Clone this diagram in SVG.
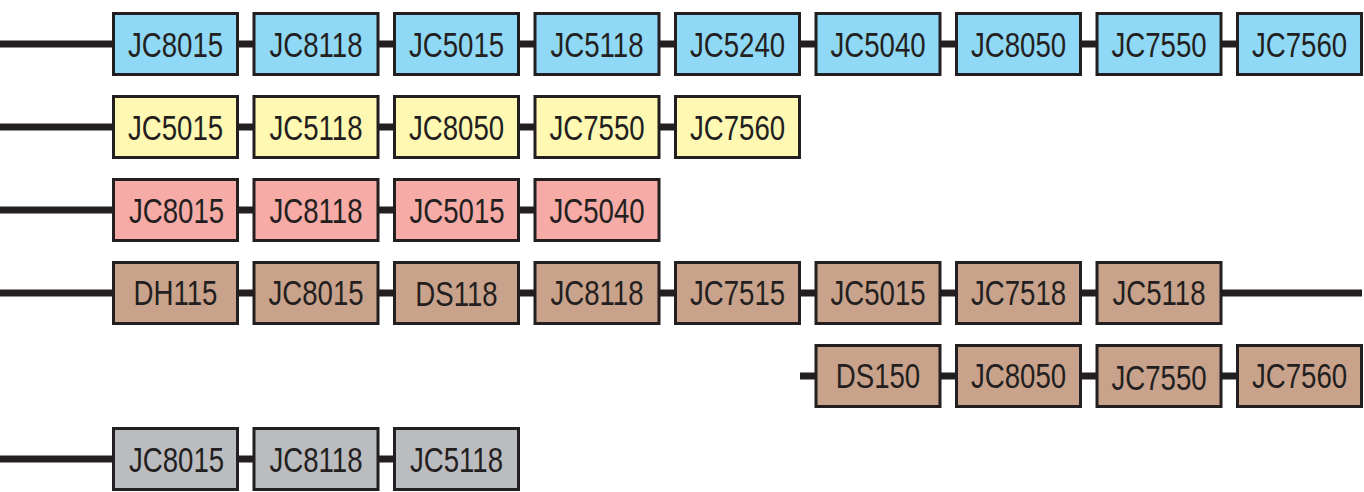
<svg xmlns="http://www.w3.org/2000/svg" width="1364" height="492" viewBox="0 0 1364 492">
<style>
.bx{stroke:#231f20;stroke-width:3}
.b{fill:#8fd8f6}.y{fill:#fff8b3}.p{fill:#f7aba6}.r{fill:#c9a28b}.g{fill:#bbbcc0}
.t{font-family:"Liberation Sans",Arial,sans-serif;font-size:35px;fill:#231f20;text-anchor:middle}
.ln{stroke:#231f20;stroke-width:7;fill:none}
</style>
<rect width="1364" height="492" fill="#ffffff"/>
<g id="connectors">
<line class="ln" x1="0" y1="44" x2="1240" y2="44"/>
<line class="ln" x1="0" y1="127" x2="680" y2="127"/>
<line class="ln" x1="0" y1="210" x2="540" y2="210"/>
<line class="ln" x1="0" y1="293" x2="1362" y2="293"/>
<line class="ln" x1="800" y1="376" x2="1240" y2="376"/>
<line class="ln" x1="0" y1="459" x2="400" y2="459"/>
</g>
<!-- Row 1 -->
<g id="r1n1"><rect class="bx b" x="113.5" y="13.5" width="124" height="61"/><text class="t" transform="translate(175.5,57) scale(0.79,1)">JC8015</text></g>
<g id="r1n2"><rect class="bx b" x="254" y="13.5" width="124" height="61"/><text class="t" transform="translate(316,57) scale(0.79,1)">JC8118</text></g>
<g id="r1n3"><rect class="bx b" x="394.5" y="13.5" width="124" height="61"/><text class="t" transform="translate(456.5,57) scale(0.79,1)">JC5015</text></g>
<g id="r1n4"><rect class="bx b" x="535" y="13.5" width="124" height="61"/><text class="t" transform="translate(597,57) scale(0.79,1)">JC5118</text></g>
<g id="r1n5"><rect class="bx b" x="675.5" y="13.5" width="124" height="61"/><text class="t" transform="translate(737.5,57) scale(0.79,1)">JC5240</text></g>
<g id="r1n6"><rect class="bx b" x="816" y="13.5" width="124" height="61"/><text class="t" transform="translate(878,57) scale(0.79,1)">JC5040</text></g>
<g id="r1n7"><rect class="bx b" x="956.5" y="13.5" width="124" height="61"/><text class="t" transform="translate(1018.5,57) scale(0.79,1)">JC8050</text></g>
<g id="r1n8"><rect class="bx b" x="1097" y="13.5" width="124" height="61"/><text class="t" transform="translate(1159,57) scale(0.79,1)">JC7550</text></g>
<g id="r1n9"><rect class="bx b" x="1237.5" y="13.5" width="124" height="61"/><text class="t" transform="translate(1299.5,57) scale(0.79,1)">JC7560</text></g>
<!-- Row 2 -->
<g id="r2n1"><rect class="bx y" x="113.5" y="96.5" width="124" height="61"/><text class="t" transform="translate(175.5,140) scale(0.79,1)">JC5015</text></g>
<g id="r2n2"><rect class="bx y" x="254" y="96.5" width="124" height="61"/><text class="t" transform="translate(316,140) scale(0.79,1)">JC5118</text></g>
<g id="r2n3"><rect class="bx y" x="394.5" y="96.5" width="124" height="61"/><text class="t" transform="translate(456.5,140) scale(0.79,1)">JC8050</text></g>
<g id="r2n4"><rect class="bx y" x="535" y="96.5" width="124" height="61"/><text class="t" transform="translate(597,140) scale(0.79,1)">JC7550</text></g>
<g id="r2n5"><rect class="bx y" x="675.5" y="96.5" width="124" height="61"/><text class="t" transform="translate(737.5,140) scale(0.79,1)">JC7560</text></g>
<!-- Row 3 -->
<g id="r3n1"><rect class="bx p" x="113.5" y="179.5" width="124" height="61"/><text class="t" transform="translate(176.5,223) scale(0.79,1)">JC8015</text></g>
<g id="r3n2"><rect class="bx p" x="254" y="179.5" width="124" height="61"/><text class="t" transform="translate(316,223) scale(0.79,1)">JC8118</text></g>
<g id="r3n3"><rect class="bx p" x="394.5" y="179.5" width="124" height="61"/><text class="t" transform="translate(457,223) scale(0.79,1)">JC5015</text></g>
<g id="r3n4"><rect class="bx p" x="535" y="179.5" width="124" height="61"/><text class="t" transform="translate(597,223) scale(0.79,1)">JC5040</text></g>
<!-- Row 4 -->
<g id="r4n1"><rect class="bx r" x="113.5" y="262.5" width="124" height="61"/><text class="t" transform="translate(175.5,305) scale(0.79,1)">DH115</text></g>
<g id="r4n2"><rect class="bx r" x="254" y="262.5" width="124" height="61"/><text class="t" transform="translate(316,305) scale(0.79,1)">JC8015</text></g>
<g id="r4n3"><rect class="bx r" x="394.5" y="262.5" width="124" height="61"/><text class="t" transform="translate(456.5,306) scale(0.79,1)">DS118</text></g>
<g id="r4n4"><rect class="bx r" x="535" y="262.5" width="124" height="61"/><text class="t" transform="translate(597,305) scale(0.79,1)">JC8118</text></g>
<g id="r4n5"><rect class="bx r" x="675.5" y="262.5" width="124" height="61"/><text class="t" transform="translate(737.5,305) scale(0.79,1)">JC7515</text></g>
<g id="r4n6"><rect class="bx r" x="816" y="262.5" width="124" height="61"/><text class="t" transform="translate(878,305) scale(0.79,1)">JC5015</text></g>
<g id="r4n7"><rect class="bx r" x="956.5" y="262.5" width="124" height="61"/><text class="t" transform="translate(1018.5,305) scale(0.79,1)">JC7518</text></g>
<g id="r4n8"><rect class="bx r" x="1097" y="262.5" width="124" height="61"/><text class="t" transform="translate(1159,305) scale(0.79,1)">JC5118</text></g>
<!-- Row 5 -->
<g id="r5n1"><rect class="bx r" x="816" y="345.5" width="124" height="61"/><text class="t" transform="translate(878,388) scale(0.79,1)">DS150</text></g>
<g id="r5n2"><rect class="bx r" x="956.5" y="345.5" width="124" height="61"/><text class="t" transform="translate(1018.5,388) scale(0.79,1)">JC8050</text></g>
<g id="r5n3"><rect class="bx r" x="1097" y="345.5" width="124" height="61"/><text class="t" transform="translate(1159,390) scale(0.79,1)">JC7550</text></g>
<g id="r5n4"><rect class="bx r" x="1237.5" y="345.5" width="124" height="61"/><text class="t" transform="translate(1299.5,388) scale(0.79,1)">JC7560</text></g>
<!-- Row 6 -->
<g id="r6n1"><rect class="bx g" x="113.5" y="428.5" width="124" height="61"/><text class="t" transform="translate(176.5,472) scale(0.79,1)">JC8015</text></g>
<g id="r6n2"><rect class="bx g" x="254" y="428.5" width="124" height="61"/><text class="t" transform="translate(316,472) scale(0.79,1)">JC8118</text></g>
<g id="r6n3"><rect class="bx g" x="394.5" y="428.5" width="124" height="61"/><text class="t" transform="translate(456.5,472) scale(0.79,1)">JC5118</text></g>
</svg>
